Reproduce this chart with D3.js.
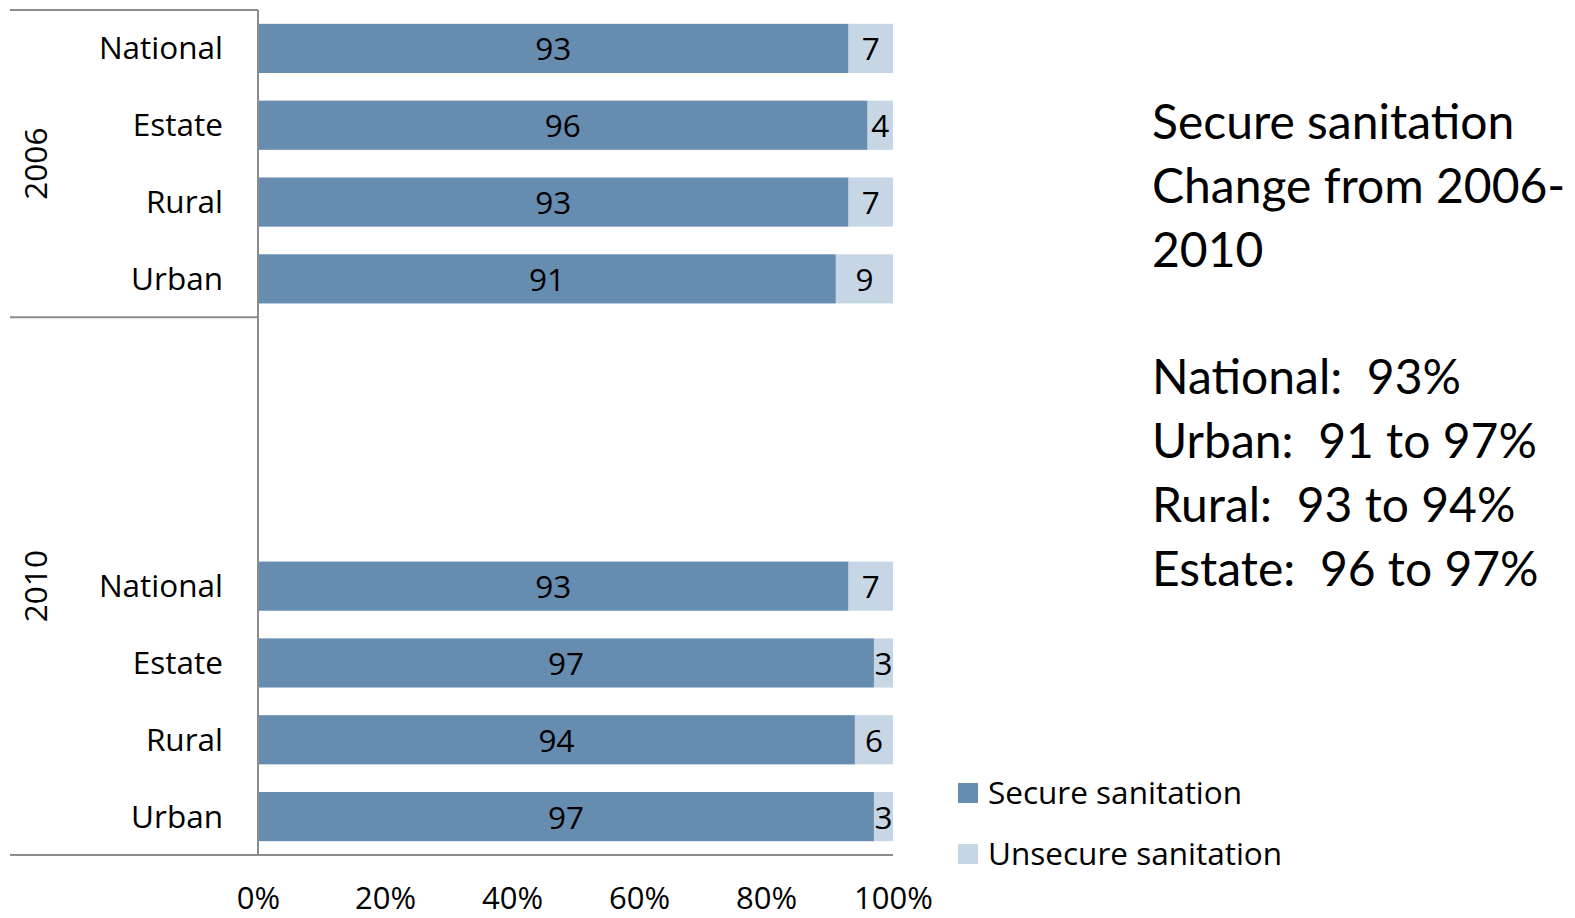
<!DOCTYPE html>
<html><head><meta charset="utf-8">
<script src="https://cdn.jsdelivr.net/npm/d3@7"></script>
<style>body{margin:0;background:#fff;}svg{display:block;}</style>
</head><body>
<svg id="c" width="1575" height="918"></svg>
<script>
const years = ["2006", "2010"];
const categories = ["National", "Estate", "Rural", "Urban"];
const secure2006 = [93, 96, 93, 91];
const unsecure2006 = [7, 4, 7, 9];
const secure2010 = [93, 97, 94, 97];
const unsecure2010 = [7, 3, 6, 3];
const blankRows2010 = 3;
const tickValues = [0, 20, 40, 60, 80, 100];
const seriesNames = ["Secure sanitation", "Unsecure sanitation"];
const titleLines = ["Secure sanitation", "Change from 2006-", "2010"];
const summaryLines = ["National:  93%", "Urban:  91 to 97%", "Rural:  93 to 94%", "Estate:  96 to 97%"];

const colors = ["#668cb0", "#c6d6e4"];
const labelFont = "'Open Sans', 'Noto Sans', sans-serif";
const sideFont = "Lato, 'Noto Sans', sans-serif";
const fs = 31.5;

const rows = [];
categories.forEach((c, i) => rows.push({key: "2006|" + c, year: "2006", cat: c, s: secure2006[i], u: unsecure2006[i]}));
for (let b = 0; b < blankRows2010; b++) rows.push({key: "2010|blank" + b, year: "2010", blank: true});
categories.forEach((c, i) => rows.push({key: "2010|" + c, year: "2010", cat: c, s: secure2010[i], u: unsecure2010[i]}));

const svg = d3.select("#c");
const x = d3.scaleLinear().domain([0, 100]).range([258, 893]);
const y = d3.scaleBand().domain(rows.map(r => r.key)).range([10, 855]).paddingInner(0.36).paddingOuter(0.18);
const step = y.step();

const data = rows.filter(r => !r.blank);

// bars
const g = svg.append("g");
g.selectAll("rect.s").data(data).join("rect")
  .attr("x", x(0)).attr("y", d => y(d.key))
  .attr("width", d => x(d.s) - x(0)).attr("height", y.bandwidth())
  .attr("fill", colors[0]);
g.selectAll("rect.u").data(data).join("rect")
  .attr("x", d => x(d.s)).attr("y", d => y(d.key))
  .attr("width", d => x(d.s + d.u) - x(d.s)).attr("height", y.bandwidth())
  .attr("fill", colors[1]);

// value labels
g.selectAll("text.sv").data(data).join("text")
  .attr("x", d => (x(0) + x(d.s)) / 2).attr("y", d => y(d.key) + y.bandwidth() / 2 + 12)
  .attr("text-anchor", "middle").attr("font-family", labelFont).attr("font-size", fs)
  .attr("fill", "#000").text(d => d.s);
g.selectAll("text.uv").data(data).join("text")
  .attr("x", d => (x(d.s) + x(d.s + d.u)) / 2).attr("y", d => y(d.key) + y.bandwidth() / 2 + 12)
  .attr("text-anchor", "middle").attr("font-family", labelFont).attr("font-size", fs)
  .attr("fill", "#000").text(d => d.u);

// category labels
g.selectAll("text.cat").data(data).join("text")
  .attr("x", 223).attr("y", d => y(d.key) + y.bandwidth() / 2 + 11)
  .attr("text-anchor", "end").attr("font-family", labelFont).attr("font-size", fs)
  .attr("fill", "#000").text(d => d.cat);

// group lines
const axisColor = "#8c8c8c";
const yearExtent = years.map(yr => {
  const ks = rows.filter(r => r.year === yr).map(r => r.key);
  return {yr, top: y(ks[0]) - step * 0.18, bottom: y(ks[ks.length - 1]) + y.bandwidth() + step * 0.18};
});
svg.append("line").attr("x1", 10).attr("x2", x(0)).attr("y1", y.range()[0]).attr("y2", y.range()[0]).attr("stroke", axisColor).attr("stroke-width", 2);
svg.append("line").attr("x1", 10).attr("x2", x(0)).attr("y1", yearExtent[0].bottom).attr("y2", yearExtent[0].bottom).attr("stroke", axisColor).attr("stroke-width", 2);
svg.append("line").attr("x1", 10).attr("x2", x(100)).attr("y1", y.range()[1]).attr("y2", y.range()[1]).attr("stroke", axisColor).attr("stroke-width", 2);
svg.append("line").attr("x1", x(0)).attr("x2", x(0)).attr("y1", y.range()[0]).attr("y2", y.range()[1]).attr("stroke", axisColor).attr("stroke-width", 2);

// year labels
svg.selectAll("text.yr").data(yearExtent).join("text")
  .attr("transform", d => `translate(47,${(d.top + d.bottom) / 2}) rotate(-90)`)
  .attr("text-anchor", "middle").attr("font-family", labelFont).attr("font-size", fs)
  .attr("fill", "#000").text(d => d.yr);

// x tick labels
const xAxis = d3.axisBottom(x).tickValues(tickValues).tickSize(0).tickPadding(0).tickFormat(d => d + "%");
const ax = svg.append("g").attr("transform", "translate(0,909)").call(xAxis);
ax.select(".domain").remove();
ax.selectAll("text").attr("font-family", labelFont).attr("font-size", 31).attr("fill", "#000").attr("dy", "0");

// legend
const leg = svg.append("g");
seriesNames.forEach((n, i) => {
  leg.append("rect").attr("x", 958).attr("y", 783 + i * 61).attr("width", 20).attr("height", 20).attr("fill", colors[i]);
  leg.append("text").attr("x", 988).attr("y", 804 + i * 61).attr("font-family", labelFont).attr("font-size", fs).attr("fill", "#000").text(n);
});

// side text
const keepSpaces = t => t.replace(/  /g, " \u00a0");
const side = svg.append("g").attr("font-family", sideFont).attr("font-size", 48).attr("fill", "#000");
titleLines.forEach((t, i) => side.append("text").attr("x", 1152).attr("y", 139 + i * 63.8).text(keepSpaces(t)));
summaryLines.forEach((t, i) => side.append("text").attr("x", 1152).attr("y", 394 + i * 64).text(keepSpaces(t)));
</script>
</body></html>
